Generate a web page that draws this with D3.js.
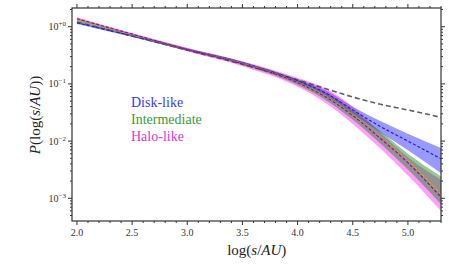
<!doctype html>
<html lang="en">
  <head>
    <meta charset="utf-8">
    <title>P(log(s/AU))</title>
    <style>
      body { margin: 0; background: #fff; }
    </style>
  </head>
  <body>
    <script src="https://cdn.jsdelivr.net/npm/d3@7/dist/d3.min.js"></script>
    <script>

      // log(s/AU) sample points
      var logS = [2.0, 2.5, 3.0, 3.5, 4.0, 4.25, 4.5, 4.75, 5.0, 5.3];

      // reference (grey dashed)
      var ref = [1.20, 0.69, 0.39, 0.22, 0.117, 0.083, 0.059, 0.044, 0.035, 0.026];

      // Disk-like
      var diskMid = [1.17, 0.69, 0.40, 0.234, 0.112, 0.070, 0.035, 0.018, 0.010, 0.0049];
      var diskLo  = [1.12, 0.66, 0.38, 0.224, 0.105, 0.063, 0.030, 0.0141, 0.0069, 0.00275];
      var diskHi  = [1.23, 0.72, 0.417, 0.245, 0.120, 0.078, 0.040, 0.0224, 0.0135, 0.0076];

      // Intermediate
      var interMid = [1.32, 0.72, 0.40, 0.229, 0.107, 0.062, 0.029, 0.0117, 0.0045, 0.00117];
      var interLo  = [1.23, 0.68, 0.38, 0.214, 0.096, 0.053, 0.0236, 0.0091, 0.0032, 0.00079];
      var interHi  = [1.41, 0.76, 0.42, 0.245, 0.119, 0.072, 0.035, 0.0148, 0.0060, 0.0024];

      // Halo-like
      var haloMid = [1.38, 0.74, 0.40, 0.224, 0.105, 0.060, 0.028, 0.0112, 0.0042, 0.00105];
      var haloLo  = [1.27, 0.69, 0.372, 0.204, 0.089, 0.047, 0.020, 0.0074, 0.0025, 0.0006];
      var haloHi  = [1.47, 0.78, 0.43, 0.25, 0.128, 0.084, 0.040, 0.0141, 0.0052, 0.0021];

      var xTicks = [2.0, 2.5, 3.0, 3.5, 4.0, 4.5, 5.0];
      var yTicks = [1, 0.1, 0.01, 0.001];
      var yTickExp = ["+0", "\u22121", "\u22122", "\u22123"];

      var labels = ["Disk-like", "Intermediate", "Halo-like"];
      var labelColors = ["#3a3aff", "#3a9a3a", "#d83ad8"];

      var W = 449, H = 271;
      var margin = {top: 8, right: 8, bottom: 50, left: 72},
          width  = W - margin.left - margin.right,
          height = H - margin.top - margin.bottom;

      var svg = d3.select("body")
        .append("svg")
        .attr("width", W)
        .attr("height", H)
        .style("font-family", "'Liberation Serif', 'DejaVu Serif', serif");

      var chart = svg.append("g")
        .attr("transform", "translate(" + margin.left + "," + margin.top + ")");

      var x = d3.scaleLinear()
        .domain([1.955, 5.3])
        .range([0, width]);

      var y = d3.scaleLog()
        .domain([Math.pow(10, -3.397), Math.pow(10, 0.327)])
        .range([height, 0]);

      chart.append("clipPath").attr("id", "clip")
        .append("rect").attr("width", width).attr("height", height);

      var plot = chart.append("g").attr("clip-path", "url(#clip)");

      var area = d3.area()
        .x(function(d){ return x(d[0]); })
        .y0(function(d){ return y(d[1]); })
        .y1(function(d){ return y(d[2]); })
        .curve(d3.curveMonotoneX);

      var line = d3.line()
        .x(function(d){ return x(d[0]); })
        .y(function(d){ return y(d[1]); })
        .curve(d3.curveMonotoneX);

      function band(lo, hi) {
        return logS.map(function(s, i){ return [s, lo[i], hi[i]]; });
      }
      function pts(v) {
        return logS.map(function(s, i){ return [s, v[i]]; });
      }

      plot.append("path").attr("d", area(band(diskLo, diskHi)))
        .attr("fill", "blue").attr("fill-opacity", 0.4);
      plot.append("path").attr("d", area(band(haloLo, haloHi)))
        .attr("fill", "magenta").attr("fill-opacity", 0.38);
      plot.append("path").attr("d", area(band(interLo, interHi)))
        .attr("fill", "green").attr("fill-opacity", 0.42);

      plot.append("path").attr("d", line(pts(ref)))
        .attr("fill", "none").attr("stroke", "#444").attr("stroke-opacity", 0.85)
        .attr("stroke-width", 1.6).attr("stroke-dasharray", "5,3");
      plot.append("path").attr("d", line(pts(diskMid)))
        .attr("fill", "none").attr("stroke", "#2020e0")
        .attr("stroke-width", 1.2).attr("stroke-dasharray", "3,2");
      plot.append("path").attr("d", line(pts(interMid)))
        .attr("fill", "none").attr("stroke", "#c8b400")
        .attr("stroke-width", 1.2).attr("stroke-dasharray", "3,2");
      plot.append("path").attr("d", line(pts(haloMid)))
        .attr("fill", "none").attr("stroke", "#a000a8")
        .attr("stroke-width", 1.2).attr("stroke-dasharray", "3,2");

      // ticks, all sides, pointing out
      var xMinor = d3.range(20, 54).map(function(v){ return v / 10; });
      var yMinor = [];
      [-4, -3, -2, -1, 0].forEach(function(e){
        for (var k = 2; k <= 9; k++) yMinor.push(k * Math.pow(10, e));
      });
      yMinor = yMinor.filter(function(v){ return v > y.domain()[0] && v < y.domain()[1]; });

      var tk = chart.append("g").attr("stroke", "#333").attr("stroke-width", 1);
      xMinor.forEach(function(v){
        var len = xTicks.some(function(t){ return Math.abs(t - v) < 1e-9; }) ? 4 : 2;
        tk.append("line").attr("x1", x(v)).attr("x2", x(v)).attr("y1", height).attr("y2", height + len);
        tk.append("line").attr("x1", x(v)).attr("x2", x(v)).attr("y1", 0).attr("y2", -len);
      });
      yMinor.concat(yTicks).forEach(function(v){
        var len = yTicks.indexOf(v) >= 0 ? 4 : 2;
        tk.append("line").attr("y1", y(v)).attr("y2", y(v)).attr("x1", 0).attr("x2", -len);
        tk.append("line").attr("y1", y(v)).attr("y2", y(v)).attr("x1", width).attr("x2", width + len);
      });

      chart.append("rect")
        .attr("width", width).attr("height", height)
        .attr("fill", "none").attr("stroke", "#333").attr("stroke-width", 1.2);

      chart.selectAll(".xlab")
        .data(xTicks)
        .enter()
        .append("text")
        .attr("x", function(d){ return x(d); })
        .attr("y", height + 14.5)
        .attr("text-anchor", "middle")
        .attr("font-size", 10)
        .attr("fill", "#333")
        .text(function(d){ return d.toFixed(1); });

      var yl = chart.selectAll(".ylab")
        .data(yTicks)
        .enter()
        .append("text")
        .attr("x", -6)
        .attr("y", function(d){ return y(d) + 3.5; })
        .attr("text-anchor", "end")
        .attr("font-size", 10)
        .attr("fill", "#333");
      yl.append("tspan").text("10");
      yl.append("tspan").attr("dy", -4).attr("font-size", 7)
        .text(function(d, i){ return yTickExp[i]; });

      var xt = svg.append("text")
        .attr("x", margin.left + x(3.63))
        .attr("y", 255)
        .attr("text-anchor", "middle")
        .attr("font-size", 15)
        .attr("fill", "#222");
      xt.append("tspan").text("log(");
      xt.append("tspan").attr("font-style", "italic").text("s");
      xt.append("tspan").text("/");
      xt.append("tspan").attr("font-style", "italic").text("AU");
      xt.append("tspan").text(")");

      var yt = svg.append("text")
        .attr("transform", "translate(40,115) rotate(-90)")
        .attr("text-anchor", "middle")
        .attr("font-size", 15)
        .attr("fill", "#222");
      yt.append("tspan").attr("font-style", "italic").text("P");
      yt.append("tspan").text("(log(");
      yt.append("tspan").attr("font-style", "italic").text("s");
      yt.append("tspan").text("/");
      yt.append("tspan").attr("font-style", "italic").text("AU");
      yt.append("tspan").text("))");

      svg.selectAll(".leg")
        .data(labels)
        .enter()
        .append("text")
        .attr("x", 131)
        .attr("y", function(d, i){ return 107 + i * 17; })
        .attr("font-size", 14)
        .attr("fill", function(d, i){ return labelColors[i]; })
        .text(function(d){ return d; });

    </script>
  </body>
</html>
